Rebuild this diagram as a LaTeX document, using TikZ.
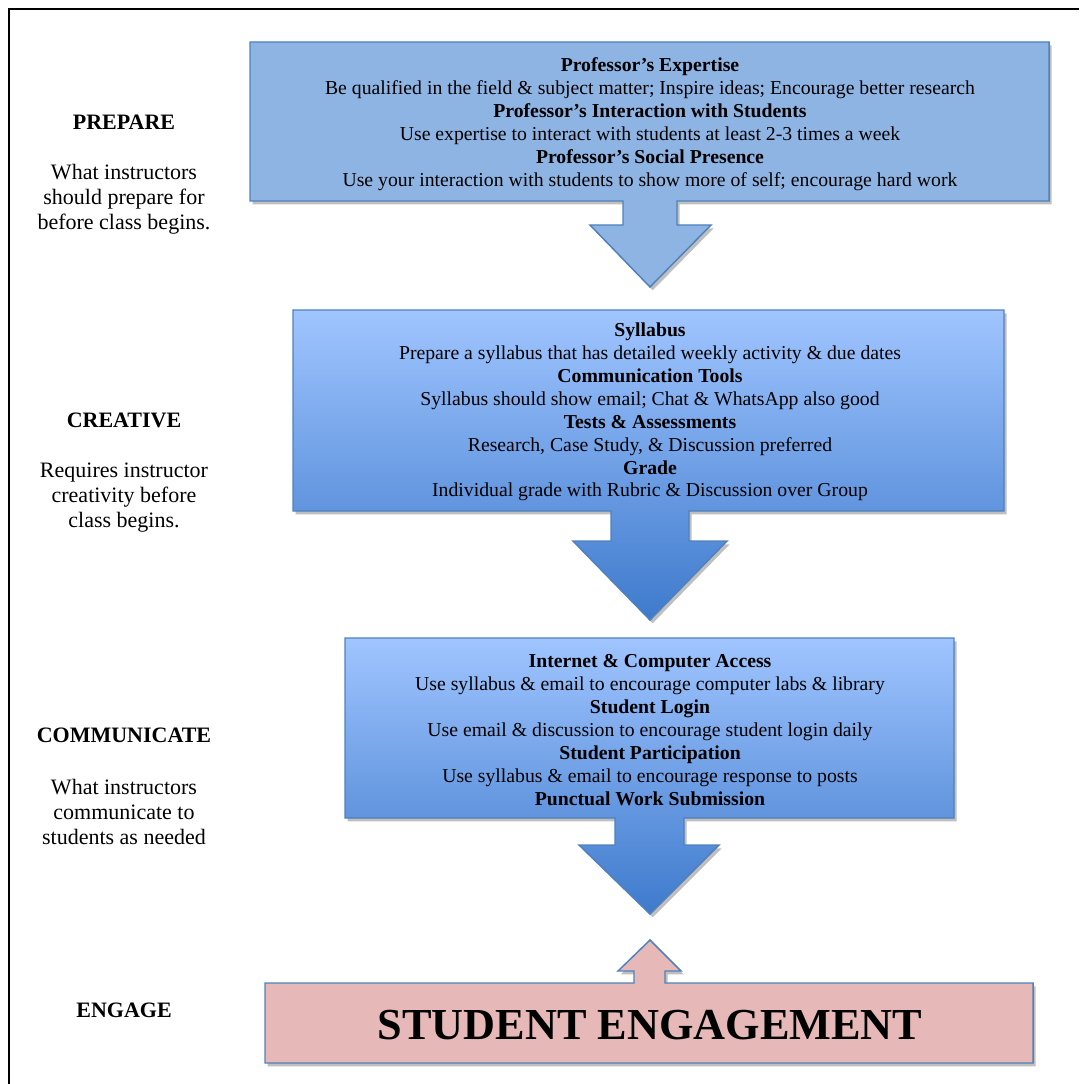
\documentclass[tikz,border=0pt]{standalone}
\usepackage{fontspec}
\setmainfont{Liberation Serif}
\usetikzlibrary{shadows}
\definecolor{boxline}{RGB}{79,129,189}
\definecolor{prepfill}{RGB}{142,180,227}
\definecolor{gradtop}{RGB}{160,197,255}
\definecolor{gradbot}{RGB}{62,122,204}
\definecolor{engfill}{RGB}{230,184,183}
\tikzset{
  flowshape/.style={draw=boxline, line width=1.1pt, line join=miter,
    drop shadow={shadow xshift=2pt, shadow yshift=-2.5pt, opacity=.25, fill=black}},
  boxtext/.style={align=center, inner sep=0pt, font=\fontsize{14.8}{17.2}\selectfont},
  sidehead/.style={inner sep=0pt, font=\fontsize{16.5}{18.75}\selectfont\bfseries},
  sidetext/.style={align=center, inner sep=0pt, font=\fontsize{16.5}{18.75}\selectfont}
}
\begin{document}
\begin{tikzpicture}[x=0.75pt, y=-0.75pt]
\useasboundingbox (0,0) rectangle (1079,1084);
\draw[line width=1.5pt] (9,1084) -- (9,9) -- (1079,9);

\path[flowshape, fill=prepfill] (250,42) -- (1049,42) -- (1049,201) -- (677,201) -- (677,225)
  -- (711,225) -- (650,287) -- (590,225) -- (623,225) -- (623,201) -- (250,201) -- cycle;
\path[flowshape, top color=gradtop, bottom color=gradbot] (293,310) -- (1004,310) -- (1004,511)
  -- (689,511) -- (689,541) -- (727,541) -- (650,620) -- (573,541) -- (611,541) -- (611,511)
  -- (293,511) -- cycle;
\path[flowshape, top color=gradtop, bottom color=gradbot] (345,638) -- (954,638) -- (954,818)
  -- (684,818) -- (684,845) -- (719,845) -- (650,914) -- (579,845) -- (615,845) -- (615,818)
  -- (345,818) -- cycle;
\path[flowshape, fill=engfill] (265,983) -- (634,983) -- (634,971) -- (618,971) -- (650,940)
  -- (681,971) -- (665,971) -- (665,983) -- (1033,983) -- (1033,1063) -- (265,1063) -- cycle;

\node[boxtext] (expertise) at (650,124) {\textbf{Professor’s Expertise}\\
  Be qualified in the field \& subject matter; Inspire ideas; Encourage better research\\
  \textbf{Professor’s Interaction with Students}\\
  Use expertise to interact with students at least 2-3 times a week\\
  \textbf{Professor’s Social Presence}\\
  Use your interaction with students to show more of self; encourage hard work};
\node[boxtext] (syllabus) at (650,412) {\textbf{Syllabus}\\
  Prepare a syllabus that has detailed weekly activity \& due dates\\
  \textbf{Communication Tools}\\
  Syllabus should show email; Chat \& WhatsApp also good\\
  \textbf{Tests \& Assessments}\\
  Research, Case Study, \& Discussion preferred\\
  \textbf{Grade}\\
  Individual grade with Rubric \& Discussion over Group};
\node[boxtext] (access) at (650,730) {\textbf{Internet \& Computer Access}\\
  Use syllabus \& email to encourage computer labs \& library\\
  \textbf{Student Login}\\
  Use email \& discussion to encourage student login daily\\
  \textbf{Student Participation}\\
  Use syllabus \& email to encourage response to posts\\
  \textbf{Punctual Work Submission}};
\node[inner sep=0pt, font=\fontsize{33.2}{36}\selectfont\bfseries] (engagement) at (650,1025) {STUDENT ENGAGEMENT};

\node[sidehead] (prepare) at (124,122) {PREPARE};
\node[sidetext] (preparetext) at (124,199) {What instructors\\should prepare for\\before class begins.};
\node[sidehead] (creative) at (124,420) {CREATIVE};
\node[sidetext] (creativetext) at (124,498) {Requires instructor\\creativity before\\class begins.};
\node[sidehead] (communicate) at (124,735) {COMMUNICATE};
\node[sidetext] (communicatetext) at (124,812) {What instructors\\communicate to\\students as needed};
\node[sidehead] (engage) at (124,1010) {ENGAGE};
\end{tikzpicture}
\end{document}
